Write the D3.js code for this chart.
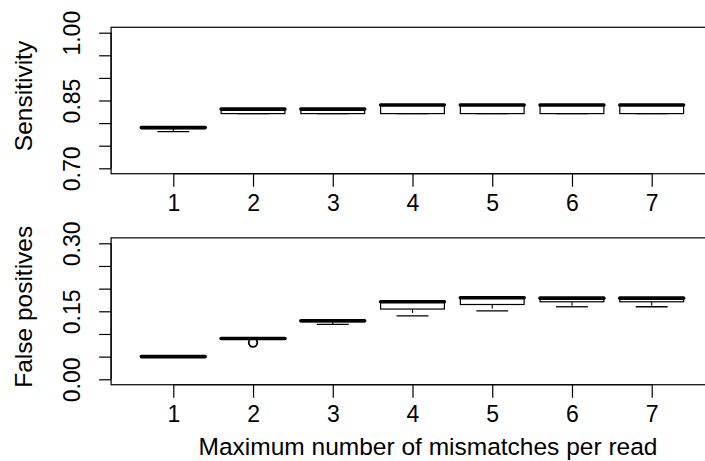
<!DOCTYPE html>
<html>
<head>
<meta charset="utf-8">
<script src="https://cdn.jsdelivr.net/npm/d3@7"></script>
<style>
  html, body { margin: 0; padding: 0; background: #fff; }
  svg { display: block; }
  text { font-family: "Liberation Sans", Arial, Helvetica, sans-serif; fill: #000; }
</style>
</head>
<body>
<svg id="chart" width="705" height="461"></svg>
<script>
// ---- data ----
const categories = [1, 2, 3, 4, 5, 6, 7];

// Sensitivity box statistics
const sensLow    = [0.781, 0.821, 0.821, 0.821, 0.821, 0.821, 0.821];
const sensQ1     = [0.788, 0.821, 0.821, 0.821, 0.821, 0.821, 0.821];
const sensMedian = [0.790, 0.831, 0.831, 0.840, 0.840, 0.840, 0.840];
const sensQ3     = [0.790, 0.831, 0.831, 0.840, 0.840, 0.840, 0.840];
const sensHigh   = [0.790, 0.831, 0.831, 0.840, 0.840, 0.840, 0.840];
const sensOutliers = [[], [], [], [], [], [], []];

// False positive box statistics
const fpLow    = [0.050, 0.090, 0.121, 0.140, 0.151, 0.160, 0.160];
const fpQ1     = [0.050, 0.090, 0.127, 0.155, 0.165, 0.171, 0.171];
const fpMedian = [0.050, 0.090, 0.129, 0.171, 0.180, 0.179, 0.179];
const fpQ3     = [0.050, 0.090, 0.129, 0.171, 0.180, 0.179, 0.179];
const fpHigh   = [0.050, 0.090, 0.129, 0.171, 0.180, 0.179, 0.179];
const fpOutliers = [[], [0.081], [], [], [], [], []];

const sensTicks = [0.70, 0.75, 0.80, 0.85, 0.90, 0.95, 1.00];
const sensTickLabels = ["0.70", "", "", "0.85", "", "", "1.00"];
const fpTicks = [0.00, 0.05, 0.10, 0.15, 0.20, 0.25, 0.30];
const fpTickLabels = ["0.00", "", "", "0.15", "", "", "0.30"];

const xTitle = "Maximum number of mismatches per read";
const sensTitle = "Sensitivity";
const fpTitle = "False positives";

// ---- layout ----
const svg = d3.select("#chart");
const FS = 23;      // tick labels
const TFS = 24.5;   // axis titles

const x = d3.scaleLinear().domain([1, 7]).range([173.3, 651.7]);
const xFrame = [x(0.22), x(7.78)];
const boxHalf = 0.4 * (x(2) - x(1));

const panels = [
  { low: sensLow, q1: sensQ1, med: sensMedian, q3: sensQ3, high: sensHigh, out: sensOutliers,
    y: d3.scaleLinear().domain([0.70, 1.00]).range([168.3, 32.7]),
    ticks: sensTicks, labels: sensTickLabels, title: sensTitle, ext: [0.688, 1.012] },
  { low: fpLow, q1: fpQ1, med: fpMedian, q3: fpQ3, high: fpHigh, out: fpOutliers,
    y: d3.scaleLinear().domain([0.00, 0.30]).range([379.3, 243.3]),
    ticks: fpTicks, labels: fpTickLabels, title: fpTitle, ext: [-0.012, 0.312] }
];

panels.forEach((p, pi) => {
  const g = svg.append("g");
  const y = p.y;
  const yTop = y(p.ext[1]), yBot = y(p.ext[0]);

  // boxes
  categories.forEach((c, i) => {
    const xc = x(c);
    const bg = g.append("g");
    // whiskers (dashed)
    bg.append("line").attr("x1", xc).attr("x2", xc).attr("y1", y(p.q1[i])).attr("y2", y(p.low[i]))
      .attr("stroke", "#000").attr("stroke-width", 1.1).attr("stroke-dasharray", "4,3");
    bg.append("line").attr("x1", xc).attr("x2", xc).attr("y1", y(p.q3[i])).attr("y2", y(p.high[i]))
      .attr("stroke", "#000").attr("stroke-width", 1.1).attr("stroke-dasharray", "4,3");
    // staples
    [p.low[i], p.high[i]].forEach(v => {
      bg.append("line").attr("x1", xc - boxHalf / 2).attr("x2", xc + boxHalf / 2)
        .attr("y1", y(v)).attr("y2", y(v)).attr("stroke", "#000").attr("stroke-width", 1.3);
    });
    // box
    bg.append("rect").attr("x", xc - boxHalf).attr("width", 2 * boxHalf)
      .attr("y", y(p.q3[i])).attr("height", Math.max(0, y(p.q1[i]) - y(p.q3[i])))
      .attr("fill", "#fff").attr("stroke", "#000").attr("stroke-width", 1.2);
    // median
    bg.append("line").attr("x1", xc - boxHalf).attr("x2", xc + boxHalf)
      .attr("y1", y(p.med[i])).attr("y2", y(p.med[i]))
      .attr("stroke", "#000").attr("stroke-width", 3.6).attr("stroke-linecap", "round");
    // outliers
    p.out[i].forEach(v => {
      bg.append("circle").attr("cx", xc).attr("cy", y(v)).attr("r", 4.3)
        .attr("fill", "none").attr("stroke", "#000").attr("stroke-width", 1.8);
    });
  });

  // frame
  g.append("rect").attr("x", xFrame[0]).attr("y", yTop)
    .attr("width", xFrame[1] - xFrame[0]).attr("height", yBot - yTop)
    .attr("fill", "none").attr("stroke", "#000").attr("stroke-width", 1.2);

  // y axis
  const yAxis = d3.axisLeft(y).tickValues(p.ticks).tickSize(12)
    .tickFormat((d, i) => p.labels[i]);
  const ya = g.append("g").attr("transform", `translate(${xFrame[0]},0)`).call(yAxis);
  ya.select(".domain").attr("stroke", "#000").attr("stroke-width", 1.2)
    .attr("d", `M0,${y(p.ticks[0])}V${y(p.ticks[p.ticks.length - 1])}`);
  ya.selectAll(".tick line").attr("stroke", "#000").attr("stroke-width", 1.2);
  ya.selectAll(".tick text")
    .attr("transform", "rotate(-90)")
    .attr("x", 0).attr("y", -31.5).attr("dy", 0)
    .attr("text-anchor", "middle")
    .style("font-size", FS + "px")
    .style("font-family", '"Liberation Sans", Arial, sans-serif')
    .attr("fill", "#000");

  // x axis
  const xAxis = d3.axisBottom(x).tickValues(categories).tickSize(13).tickFormat(d3.format("d"));
  const xa = g.append("g").attr("transform", `translate(0,${yBot})`).call(xAxis);
  xa.select(".domain").attr("stroke", "#000").attr("stroke-width", 1.2)
    .attr("d", `M${x(1)},0H${x(7)}`);
  xa.selectAll(".tick line").attr("stroke", "#000").attr("stroke-width", 1.2);
  xa.selectAll(".tick text")
    .attr("y", 37.5).attr("dy", 0)
    .style("font-size", FS + "px")
    .style("font-family", '"Liberation Sans", Arial, sans-serif')
    .attr("fill", "#000");

  // y title
  const cy = (yTop + yBot) / 2 - 4.5;
  g.append("text").attr("transform", `translate(31.5,${cy}) rotate(-90)`)
    .attr("text-anchor", "middle").style("font-size", TFS + "px").text(p.title);
});

// x title
svg.append("text").attr("x", 428).attr("y", 455).attr("text-anchor", "middle")
  .style("font-size", TFS + "px").text(xTitle);
</script>
</body>
</html>
